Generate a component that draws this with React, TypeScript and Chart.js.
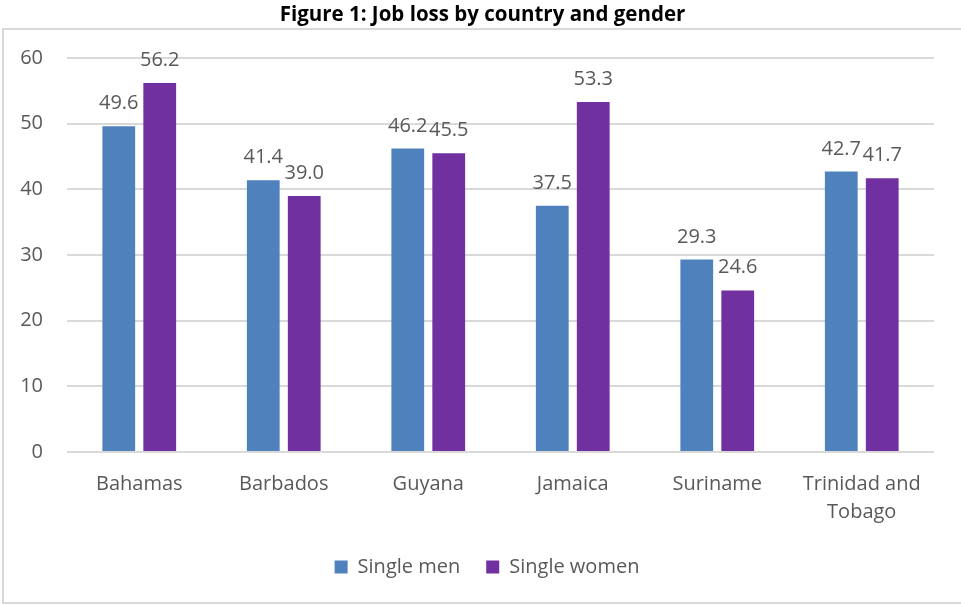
import React, { useEffect, useRef } from "react";
import { Chart, registerables } from "chart.js";

Chart.register(...registerables);

const categories: (string | string[])[] = [
  "Bahamas",
  "Barbados",
  "Guyana",
  "Jamaica",
  "Suriname",
  ["Trinidad and", "Tobago"],
];
const singleMen = [49.6, 41.4, 46.2, 37.5, 29.3, 42.7];
const singleWomen = [56.2, 39.0, 45.5, 53.3, 24.6, 41.7];
const seriesNames = ["Single men", "Single women"];
const yTicks = [0, 10, 20, 30, 40, 50, 60];
const titleText = "Figure 1: Job loss by country and gender";

const TEXT = "#595959";
const FONT = "'Open Sans', sans-serif";

const borderPlugin = {
  id: "outerBorder",
  beforeDraw(chart: any) {
    const ctx = chart.ctx;
    ctx.save();
    ctx.strokeStyle = "#d9d9d9";
    ctx.lineWidth = 2;
    ctx.strokeRect(3, 29, chart.width + 20, chart.height - 31);
    ctx.restore();
    if (chart.legend) {
      chart.legend.left = 40;
    }
  },
};

const titlePlugin = {
  id: "figureTitle",
  afterDraw(chart: any) {
    const ctx = chart.ctx;
    ctx.save();
    ctx.fillStyle = "#000000";
    ctx.font = `bold 20.5px ${FONT}`;
    ctx.textAlign = "center";
    ctx.textBaseline = "alphabetic";
    ctx.fillText(titleText, chart.width / 2 + 2, 21);
    ctx.restore();
  },
};

const valueLabelPlugin = {
  id: "valueLabels",
  afterDatasetsDraw(chart: any) {
    const ctx = chart.ctx;
    ctx.save();
    ctx.fillStyle = TEXT;
    ctx.font = `20px ${FONT}`;
    ctx.textAlign = "center";
    ctx.textBaseline = "alphabetic";
    chart.data.datasets.forEach((ds: any, i: number) => {
      const meta = chart.getDatasetMeta(i);
      meta.data.forEach((bar: any, j: number) => {
        ctx.fillText(Number(ds.data[j]).toFixed(1), bar.x, bar.y - 17);
      });
    });
    ctx.restore();
  },
};

export default function App() {
  const ref = useRef<HTMLCanvasElement | null>(null);
  useEffect(() => {
    if (!ref.current) return;
    const chart = new Chart(ref.current, {
      type: "bar",
      data: {
        labels: categories,
        datasets: [
          {
            label: seriesNames[0],
            data: singleMen,
            backgroundColor: "#4F81BD",
            barPercentage: 0.8,
            categoryPercentage: 0.567,
          },
          {
            label: seriesNames[1],
            data: singleWomen,
            backgroundColor: "#7030A0",
            barPercentage: 0.8,
            categoryPercentage: 0.567,
          },
        ],
      },
      options: {
        animation: false,
        responsive: true,
        maintainAspectRatio: false,
        layout: { padding: { left: 0, right: 27, top: 58, bottom: 18 } },
        plugins: {
          title: { display: false },
          legend: {
            position: "bottom",
            labels: {
              boxWidth: 13,
              boxHeight: 13,
              color: TEXT,
              font: { family: FONT, size: 20 },
              padding: 26,
            },
          },
          tooltip: { enabled: false },
        },
        scales: {
          x: {
            grid: { display: false, drawTicks: false },
            border: { display: false },
            afterFit(scale: any) {
              scale.height = 79;
            },
            ticks: {
              color: TEXT,
              font: { family: FONT, size: 20, lineHeight: 1.42 },
              padding: 18,
              maxRotation: 0,
              autoSkip: false,
            },
          },
          y: {
            min: 0,
            max: 60,
            afterBuildTicks(scale: any) {
              scale.ticks = yTicks.map((v) => ({ value: v }));
            },
            afterFit(scale: any) {
              scale.width = 67;
            },
            grid: { color: "#d9d9d9", lineWidth: 2, drawTicks: false },
            border: { display: false },
            ticks: {
              color: TEXT,
              font: { family: FONT, size: 20 },
              padding: 24,
            },
          },
        },
      },
      plugins: [borderPlugin, valueLabelPlugin, titlePlugin],
    });
    return () => chart.destroy();
  }, []);
  return (
    <div style={{ position: "fixed", left: 0, top: 0, width: 961, height: 605, background: "#fff" }}>
      <canvas ref={ref} />
    </div>
  );
}
